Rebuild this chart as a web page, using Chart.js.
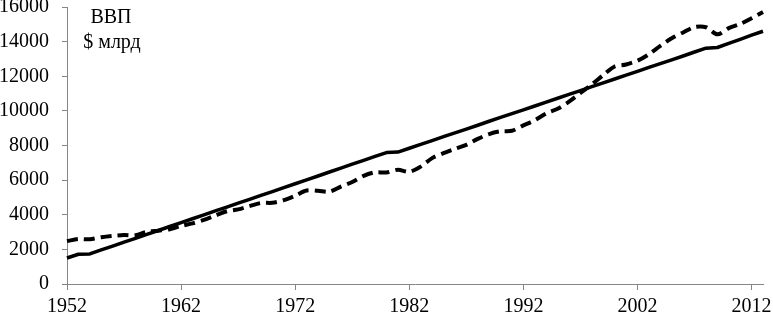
<!DOCTYPE html>
<html>
<head>
<meta charset="utf-8">
<script src="https://cdn.jsdelivr.net/npm/chart.js@4.4.1/dist/chart.umd.min.js"></script>
<style>
  html, body { margin: 0; padding: 0; background: #fff; overflow: hidden; }
  #wrap { position: relative; width: 773px; height: 316px; }
</style>
</head>
<body>
<div id="wrap"><canvas id="chart" width="773" height="316"></canvas></div>
<script>
// years 1952..2013
const years = [
  1952, 1953, 1954, 1955, 1956, 1957, 1958, 1959, 1960, 1961,
  1962, 1963, 1964, 1965, 1966, 1967, 1968, 1969, 1970, 1971,
  1972, 1973, 1974, 1975, 1976, 1977, 1978, 1979, 1980, 1981,
  1982, 1983, 1984, 1985, 1986, 1987, 1988, 1989, 1990, 1991,
  1992, 1993, 1994, 1995, 1996, 1997, 1998, 1999, 2000, 2001,
  2002, 2003, 2004, 2005, 2006, 2007, 2008, 2009, 2010, 2011,
  2012, 2013
];

// ВВП, $ млрд (пунктир)
const gdpActual = [
  2480, 2600, 2580, 2700, 2780, 2830, 2820, 3010, 3080, 3160,
  3350, 3500, 3700, 3950, 4200, 4310, 4500, 4680, 4690, 4840,
  5100, 5400, 5380, 5330, 5620, 5890, 6250, 6450, 6440, 6600,
  6480, 6780, 7270, 7560, 7810, 8040, 8380, 8660, 8820, 8850,
  9160, 9460, 9850, 10120, 10530, 11040, 11530, 12070, 12560, 12680,
  12900, 13270, 13750, 14190, 14530, 14840, 14830, 14420, 14780, 15020,
  15350, 15710
];

// тренд (сплошная линия)
const gdpTrend = [
  1500, 1720, 1740, 1970, 2190, 2420, 2640, 2870, 3090, 3320,
  3540, 3770, 3990, 4220, 4440, 4670, 4890, 5120, 5340, 5570,
  5790, 6020, 6240, 6470, 6690, 6920, 7140, 7370, 7590, 7620,
  7840, 8060, 8280, 8510, 8730, 8950, 9170, 9400, 9620, 9840,
  10060, 10280, 10510, 10730, 10950, 11170, 11400, 11620, 11840, 12060,
  12280, 12510, 12730, 12950, 13170, 13400, 13620, 13660, 13900, 14130,
  14370, 14600
];

const yTicks = [0, 2000, 4000, 6000, 8000, 10000, 12000, 14000, 16000];
const labelYears = [1952, 1962, 1972, 1982, 1992, 2002, 2012];
const titleLines = ["ВВП", "$ млрд"];

const FONT = "'Liberation Serif', 'Times New Roman', serif";
const AXIS = "#868686";

// подпись в левом верхнем углу
const titlePlugin = {
  id: "cornerTitle",
  afterDraw(chart) {
    const ctx = chart.ctx;
    const a = chart.chartArea;
    ctx.save();
    ctx.fillStyle = "#000";
    ctx.font = "20px " + FONT;
    ctx.textAlign = "center";
    ctx.textBaseline = "middle";
    ctx.fillText(titleLines[0], a.left + 44, 18);
    ctx.fillText(titleLines[1], a.left + 45, 43);
    ctx.restore();
  }
};

new Chart(document.getElementById("chart"), {
  type: "line",
  data: {
    labels: years,
    datasets: [
      {
        label: "тренд",
        data: gdpTrend,
        borderColor: "#000",
        borderWidth: 3.5,
        pointRadius: 0,
        tension: 0,
        borderJoinStyle: "round"
      },
      {
        label: "ВВП",
        data: gdpActual,
        borderColor: "#000",
        borderWidth: 4,
        borderDash: [11, 6],
        pointRadius: 0,
        tension: 0.3,
        borderJoinStyle: "round"
      }
    ]
  },
  options: {
    responsive: false,
    animation: false,
    devicePixelRatio: 1,
    layout: { padding: { top: 0, right: 10, left: 0, bottom: 0 } },
    plugins: {
      legend: { display: false },
      tooltip: { enabled: false }
    },
    scales: {
      x: {
        type: "category",
        offset: false,
        border: { color: AXIS, width: 1 },
        grid: { display: true, drawOnChartArea: false, drawTicks: true, tickLength: 6, color: AXIS },
        ticks: {
          autoSkip: false,
          maxRotation: 0,
          minRotation: 0,
          padding: 5,
          color: "#000",
          font: { family: FONT, size: 20 },
          callback(value, index) {
            const y = years[index];
            return labelYears.includes(y) ? String(y) : null;
          }
        },
        afterFit(scale) {
          scale.height = 32;
          scale.paddingLeft = 0;
          scale.paddingRight = 0;
        }
      },
      y: {
        min: 0,
        max: 16000,
        border: { color: AXIS, width: 1 },
        grid: { display: true, drawOnChartArea: false, drawTicks: true, tickLength: 5, color: AXIS },
        afterBuildTicks(scale) {
          scale.ticks = yTicks.map(v => ({ value: v }));
        },
        ticks: {
          autoSkip: false,
          padding: 13,
          color: "#000",
          font: { family: FONT, size: 20 },
          callback(value) {
            return String(value);
          }
        },
        afterFit(scale) {
          scale.width = 67;
          scale.paddingTop = 7;
          scale.paddingBottom = 0;
        }
      }
    }
  },
  plugins: [titlePlugin]
});
</script>
</body>
</html>
